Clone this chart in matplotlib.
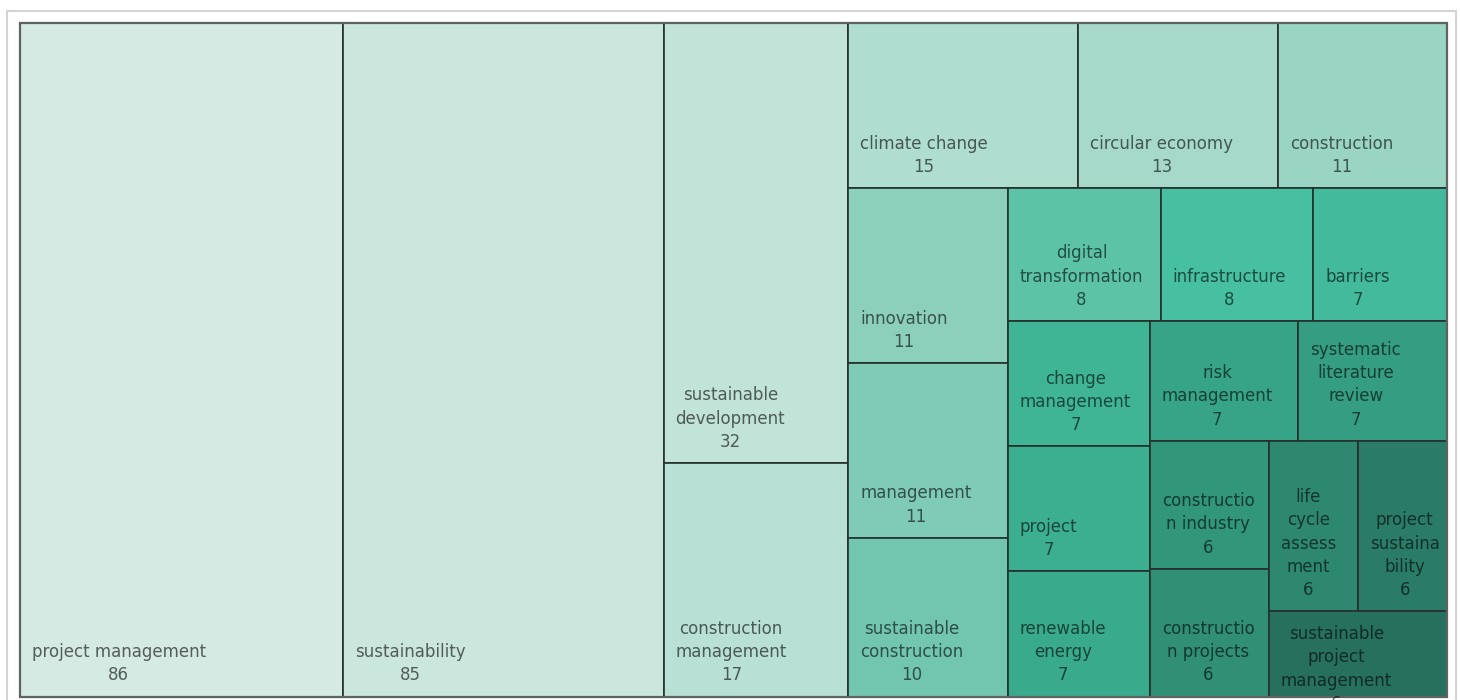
import matplotlib
matplotlib.use("Agg")
import matplotlib.pyplot as plt
from matplotlib.patches import Rectangle
from matplotlib.colors import LinearSegmentedColormap
from matplotlib.textpath import TextPath
from matplotlib.font_manager import FontProperties


# keyword frequencies, largest first
keywords = ["project management", "sustainability", "sustainable development",
            "construction management", "climate change", "circular economy",
            "construction", "innovation", "management", "sustainable construction",
            "digital transformation", "infrastructure", "barriers",
            "change management", "project", "renewable energy", "risk management",
            "systematic literature review", "construction industry",
            "construction projects", "life cycle assessment",
            "project sustainability", "sustainable project management"]
counts = [86, 85, 32, 17, 15, 13, 11, 11, 11, 10, 8, 8, 7, 7, 7, 7, 7, 7,
          6, 6, 6, 6, 6]

# how many tiles go into each strip of the treemap
strip_sizes = [1, 1, 2, 3, 3, 3, 3, 2, 2, 2, 1]

# size of the treemap area in pixels
W, H = 1427.5, 673.5
FONT = "DejaVu Sans"
FS = 12
PX = FS * 100 / 72
FP = FontProperties(family=FONT, size=FS)
LINE = 22.5

shades = LinearSegmentedColormap.from_list("teal", [
    (0.0, "#d4eae2"), (5 / 22, "#a6d9ca"), (9 / 22, "#72c6ae"),
    (11 / 22, "#46c0a0"), (16 / 22, "#37a487"), (20 / 22, "#2e8870"),
    (1.0, "#27705e")])


# strips laid along the shorter side of what is left, from the top left
def strip_layout(vals, sizes, x, y, w, h):
    rects = []
    left = sum(vals)
    i = 0
    for n in sizes:
        grp = vals[i:i + n]
        s = sum(grp)
        if w >= h:
            cw = w * s / left
            yy = y + h
            for v in grp:
                ch = h * v / s
                yy -= ch
                rects.append((x, yy, cw, ch))
            x += cw
            w -= cw
        else:
            rh = h * s / left
            xx = x
            for v in grp:
                cw = w * v / s
                rects.append((xx, y + h - rh, cw, rh))
                xx += cw
            h -= rh
        left -= s
        i += n
    return rects


def text_px(s):
    if not s.strip():
        return 0
    return TextPath((0, 0), s, size=PX, prop=FP).get_extents().width


# wrap a label to the cell width, cutting long words if needed
def wrap_label(label, room):
    lines = []
    cur = ""
    for word in label.split():
        trial = word if not cur else cur + " " + word
        if text_px(trial) <= room:
            cur = trial
            continue
        if cur:
            lines.append(cur)
            cur = ""
        while text_px(word) > room:
            k = len(word)
            while k > 1 and text_px(word[:k]) > room:
                k -= 1
            lines.append(word[:k])
            word = word[k:]
        cur = word
    if cur:
        lines.append(cur)
    return lines


fig = plt.figure(figsize=(14.61, 7.0), dpi=100)
fig.patches.append(Rectangle((7 / 1461, -0.1), 1449 / 1461, 1.1 - 11 / 700,
                             transform=fig.transFigure, fill=False,
                             edgecolor="#d4d4d4", linewidth=1.5))

ax = fig.add_axes([19.5 / 1461, 3.5 / 700, W / 1461, H / 700])
ax.set_xlim(0, W)
ax.set_ylim(0, H)
ax.set_axis_off()

tiles = strip_layout(counts, strip_sizes, 0, 0, W, H)
n = len(counts)
for i, (name, val, (x, y, w, h)) in enumerate(zip(keywords, counts, tiles)):
    cell = Rectangle((x, y), w, h, facecolor=shades(i / (n - 1)),
                     edgecolor="#25302c", linewidth=1.2)
    ax.add_patch(cell)

    lines = wrap_label(name, w - 21) + [str(val)]
    block_h = len(lines) * LINE
    if block_h + 20 <= h:
        ty, va = y + 12, "bottom"
    else:
        ty, va = y + h - 14, "top"
    t = ax.text(x + 12, ty, "\n".join(lines), ha="left", va=va,
                multialignment="center", fontsize=FS, family=FONT,
                color="black", alpha=0.6, linespacing=1.38)
    t.set_clip_path(cell)

ax.add_patch(Rectangle((0, 0), W, H, fill=False, edgecolor="#5d6361",
                       linewidth=1.6, clip_on=False))

fig.savefig("out.png", dpi=100)
